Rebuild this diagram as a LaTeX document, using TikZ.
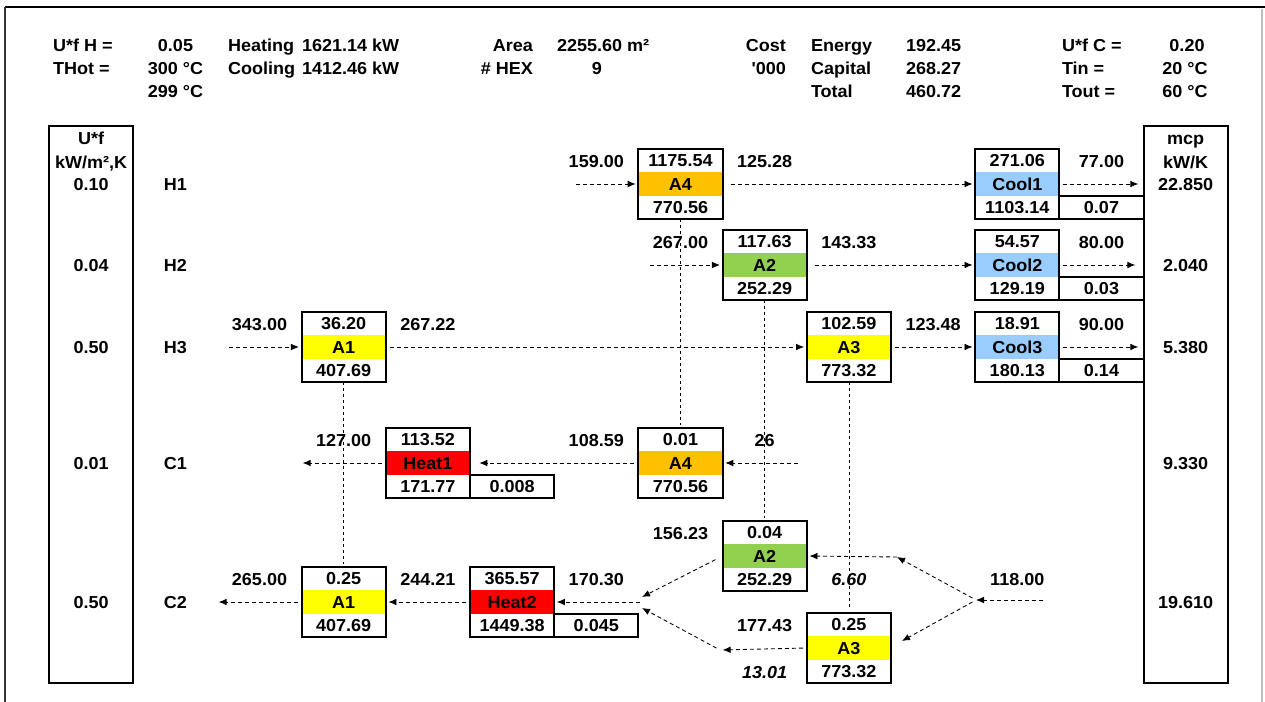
\documentclass[tikz,border=0pt]{standalone}
\usepackage{fontspec}
\setmainfont{Liberation Sans}[FakeStretch=1.04]
\usetikzlibrary{arrows.meta}
\definecolor{hxorange}{HTML}{FFC000}
\definecolor{hxgreen}{HTML}{92D050}
\definecolor{hxyellow}{HTML}{FFFF00}
\definecolor{hxblue}{HTML}{99CCFF}
\definecolor{hxred}{HTML}{FF0000}
\newcommand\hexunit[7]{%
  \node[band, fill=#7] (#1b) at (#2,#3) {#5};
  \node[hexframe] (#1) at (#2,#3) {};
  \node (#1t) at (#2,#3-23.3) {#4};
  \node (#1u) at (#2,#3+23.3) {#6};
}
\begin{document}
\begin{tikzpicture}[x=0.75pt,y=-0.75pt,
  every node/.style={inner sep=0pt, outer sep=0pt, text height=9.3pt, text depth=0pt,
    font=\fontsize{13}{15}\selectfont\bfseries},
  itl/.style={font=\fontsize{13}{15}\selectfont\bfseries\itshape},
  hexframe/.style={draw, line width=1.5pt, minimum width=63.15pt, minimum height=52.5pt},
  band/.style={minimum width=61.8pt, minimum height=17.6pt},
  extra/.style={draw, line width=1.5pt, minimum width=63.15pt, minimum height=17.5pt},
  flow/.style={dash pattern=on 3pt off 2.25pt, line width=0.65pt,
    -{Latex[length=6pt,width=5pt]}, shorten >=2pt, shorten <=3pt},
  link/.style={dash pattern=on 2.25pt off 2.25pt, line width=0.5pt, shorten >=2.5pt},
  colbox/.style={draw, line width=1.5pt, minimum width=63.15pt, minimum height=417.75pt}
]
\useasboundingbox (0,0) rectangle (1265,702);
% frame
\draw[line width=2pt] (5,7) -- (1265,7);
\draw[line width=1.2pt, black!80] (5,7) -- (5,702);
\draw[line width=0.8pt, black!25] (1262,9) -- (1262,702);

% header
\node[anchor=west] (uhl) at (53,45) {U*f H =};
\node[anchor=west] (thl) at (53,68) {THot =};
\node (uhv) at (175.5,45) {0.05};
\node (thv) at (175.5,68) {300 °C};
\node (thv2) at (175.5,91) {299 °C};
\node[anchor=west] (heatl) at (228,45) {Heating};
\node[anchor=west] (cooll) at (228,68) {Cooling};
\node[anchor=west] (heatv) at (302,45) {1621.14 kW};
\node[anchor=west] (coolv) at (302,68) {1412.46 kW};
\node[anchor=east] (areal) at (533,45) {Area};
\node[anchor=east] (hexl) at (533,68) {\# HEX};
\node[anchor=west] (areav) at (557,45) {2255.60 m²};
\node (hexv) at (597,68) {9};
\node[anchor=east] (costl) at (786,45) {Cost};
\node[anchor=east] (kl) at (786,68) {\addfontfeatures{Ligatures=TeXOff}'000};
\node[anchor=west] (enl) at (811,45) {Energy};
\node[anchor=west] (capl) at (811,68) {Capital};
\node[anchor=west] (totl) at (811,91) {Total};
\node[anchor=west] (env) at (906,45) {192.45};
\node[anchor=west] (capv) at (906,68) {268.27};
\node[anchor=west] (totv) at (906,91) {460.72};
\node[anchor=west] (ucl) at (1062,45) {U*f C =};
\node[anchor=west] (tinl) at (1062,68) {Tin =};
\node[anchor=west] (toutl) at (1062,91) {Tout =};
\node (ucv) at (1187,45) {0.20};
\node (tinv) at (1185,68) {20 °C};
\node (toutv) at (1185,91) {60 °C};

% side columns
\node[colbox] (ucol) at (91.1,404.5) {};
\node[colbox] (mcol) at (1185.7,404.5) {};
\node (uh1) at (91.1,138) {U*f};
\node (uh2) at (91.1,162) {kW/m²,K};
\node (mh1) at (1185.7,138) {mcp};
\node (mh2) at (1185.7,162) {kW/K};
\node (u1) at (91.1,184) {0.10};
\node (u2) at (91.1,265) {0.04};
\node (u3) at (91.1,347) {0.50};
\node (u4) at (91.1,463) {0.01};
\node (u5) at (91.1,602) {0.50};
\node (m1) at (1185.7,184) {22.850};
\node (m2) at (1185.7,265) {2.040};
\node (m3) at (1185.7,347) {5.380};
\node (m4) at (1185.7,463) {9.330};
\node (m5) at (1185.7,602) {19.610};
\node (sH1) at (175.3,184) {H1};
\node (sH2) at (175.3,265) {H2};
\node (sH3) at (175.3,347) {H3};
\node (sC1) at (175.3,463) {C1};
\node (sC2) at (175.3,602) {C2};

% exchanger units
\hexunit{aFourH}{680.5}{184}{1175.54}{A4}{770.56}{hxorange}
\hexunit{aTwoH}{764.7}{265}{117.63}{A2}{252.29}{hxgreen}
\hexunit{aOneH}{343.7}{347}{36.20}{A1}{407.69}{hxyellow}
\hexunit{aThreeH}{848.9}{347}{102.59}{A3}{773.32}{hxyellow}
\hexunit{coolOne}{1017.3}{184}{271.06}{Cool1}{1103.14}{hxblue}
\hexunit{coolTwo}{1017.3}{265}{54.57}{Cool2}{129.19}{hxblue}
\hexunit{coolThree}{1017.3}{347}{18.91}{Cool3}{180.13}{hxblue}
\hexunit{aFourC}{680.5}{463}{0.01}{A4}{770.56}{hxorange}
\hexunit{heatOne}{427.9}{463}{113.52}{Heat1}{171.77}{hxred}
\hexunit{aTwoC}{764.7}{556}{0.04}{A2}{252.29}{hxgreen}
\hexunit{aThreeC}{848.9}{648}{0.25}{A3}{773.32}{hxyellow}
\hexunit{aOneC}{343.7}{602}{0.25}{A1}{407.69}{hxyellow}
\hexunit{heatTwo}{512.1}{602}{365.57}{Heat2}{1449.38}{hxred}
\node[extra] (xc1) at (1101.5,207.3) {0.07};
\node[extra] (xc2) at (1101.5,288.3) {0.03};
\node[extra] (xc3) at (1101.5,370.3) {0.14};
\node[extra] (xh1) at (512.1,486.3) {0.008};
\node[extra] (xh2) at (596.3,625.3) {0.045};

% stream labels
\node (l1) at (596.3,161) {159.00};
\node (l2) at (764.7,161) {125.28};
\node (l3) at (1101.5,161) {77.00};
\node (l4) at (680.5,242) {267.00};
\node (l5) at (848.9,242) {143.33};
\node (l6) at (1101.5,242) {80.00};
\node (l7) at (259.5,324) {343.00};
\node (l8) at (427.9,324) {267.22};
\node (l9) at (933.1,324) {123.48};
\node (l10) at (1101.5,324) {90.00};
\node (l11) at (343.7,440) {127.00};
\node (l12) at (596.3,440) {108.59};
\node (l13) at (764.7,440) {26};
\node (l14) at (680.5,533) {156.23};
\node[itl] (l15) at (848.9,579) {6.60};
\node (l16) at (1017.3,579) {118.00};
\node (l17) at (259.5,579) {265.00};
\node (l18) at (427.9,579) {244.21};
\node (l19) at (596.3,579) {170.30};
\node (l20) at (764.7,625) {177.43};
\node[itl] (l21) at (764.7,672) {13.01};

% vertical links
\draw[link] (aFourH.south) -- (aFourC.north);
\draw[link] (aTwoH.south) -- (aTwoC.north);
\draw[link] (aThreeH.south) -- (aThreeC.north);
\draw[link] (aOneH.south) -- (aOneC.north);

% free ends
\coordinate (h1in) at (572,184);
\coordinate (h1out) at (1141,184);
\coordinate (h2in) at (646,265);
\coordinate (h2out) at (1138,265);
\coordinate (h3in) at (225,347);
\coordinate (h3out) at (1141,347);
\coordinate (c1in) at (802,463);
\coordinate (c1out) at (300,463);
\coordinate (c2in) at (1047,600);
\coordinate (split) at (976,600);
\coordinate (sup) at (897,557);
\coordinate (sdown) at (902,641);
\coordinate (mid) at (720,650);
\coordinate (mixa) at (642,597);
\coordinate (mixb) at (642,608);
\coordinate (mix) at (640,602);
\coordinate (c2out) at (216,602);

% hot streams
\draw[flow] (h1in) -- (aFourH.west);
\draw[flow, shorten <=6pt] (aFourH.east) -- (coolOne.west);
\draw[flow] (coolOne.east) -- (h1out);
\draw[flow] (h2in) -- (aTwoH.west);
\draw[flow, shorten <=6pt] (aTwoH.east) -- (coolTwo.west);
\draw[flow] (coolTwo.east) -- (h2out);
\draw[flow] (h3in) -- (aOneH.west);
\draw[flow] (aOneH.east) -- (aThreeH.west);
\draw[flow] (aThreeH.east) -- (coolThree.west);
\draw[flow] (coolThree.east) -- (h3out);
% cold streams
\draw[flow] (c1in) -- (aFourC.east);
\draw[flow, shorten >=7pt] (aFourC.west) -- (heatOne.east);
\draw[flow] (heatOne.west) -- (c1out);
\draw[flow, shorten >=0pt] (c2in) -- (split);
\draw[flow, shorten >=0pt] (split) -- (sup);
\draw[flow, shorten <=0pt] (sup) -- (aTwoC.east);
\draw[flow, shorten >=0pt] (split) -- (sdown);
\draw[flow] (aThreeC.west) -- (mid);
\draw[flow, shorten >=0pt] (mid) -- (mixb);
\draw[flow, shorten >=0pt, shorten <=6pt] (aTwoC.west) -- (mixa);
\draw[flow, shorten <=0pt] (mix) -- (heatTwo.east);
\draw[flow] (heatTwo.west) -- (aOneC.east);
\draw[flow] (aOneC.west) -- (c2out);
\end{tikzpicture}
\end{document}
